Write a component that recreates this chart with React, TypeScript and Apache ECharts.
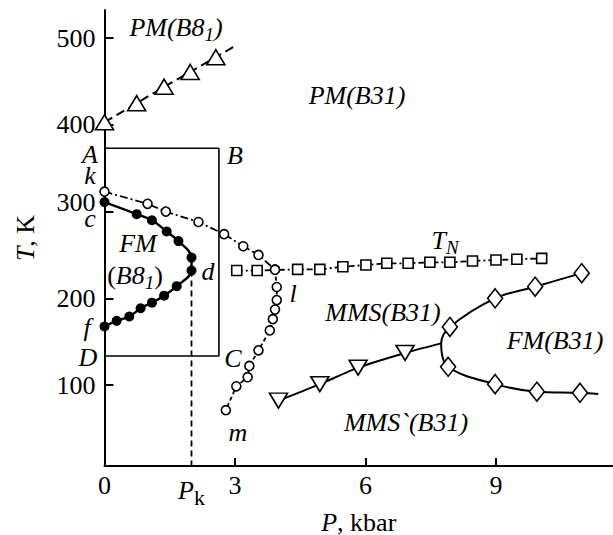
import React, { useEffect, useRef } from 'react';
import * as echarts from 'echarts';

// ---------- data (P in kbar, T in K) ----------
const pmB81Triangles = [[0, 403], [0.74, 425], [1.37, 444], [1.97, 461], [2.56, 478]];
const pmB81Tail = [3.0, 491];
const kCirclesUpper = [[0, 323], [0.99, 309], [1.41, 300], [2.16, 288], [2.75, 274], [3.19, 260], [3.54, 250], [3.92, 233]];
const kCirclesLower = [[3.92, 233], [3.96, 213], [3.96, 198], [3.92, 187], [3.87, 176], [3.8, 163], [3.54, 140], [3.33, 122], [3.29, 109], [3.03, 98.5], [2.79, 71]];
const fmFilledCircles = [[0, 311], [0.74, 297], [1.09, 290], [1.43, 277], [1.7, 266], [2.0, 247], [2.0, 232], [1.66, 214], [1.37, 203], [1.09, 195], [0.83, 188.5], [0.57, 179], [0.28, 174], [0, 167.5]];
const tnSquares = [[3.04, 232], [3.51, 232], [4.44, 233.4], [4.95, 233.4], [5.48, 236.4], [6.01, 238.4], [6.49, 240.4], [6.98, 240.4], [7.48, 241.5], [7.94, 241.5], [8.46, 243], [9.0, 244.2], [9.48, 245], [10.05, 246.1]];
const mmsTriangles = [[4.0, 82], [4.95, 101], [5.83, 120], [6.91, 137]];
const triplePoint = [7.74, 148];
const fmB31Upper = [[7.94, 167], [8.98, 200], [9.9, 213.4], [10.97, 229]];
const fmB31Lower = [[7.9, 121], [8.98, 101], [9.94, 92.3], [10.93, 91]];
const fmB31LowerTail = [11.35, 89.6];
const boxABCD = [[0, 373], [2.63, 373], [2.63, 133.5], [0, 133.5]];
const pK = 2.0;
const pointDT = 232;

const xTicks = [3, 6, 9];
const xLabels = [0, pK, 3, 6, 9];
const yTicks = [100, 200, 300, 400, 500];

const X_MIN = 0, X_MAX = 11.69;
const Y_MIN = 6.6, Y_MAX = 532.5;

const FONT = '"Liberation Serif", "DejaVu Serif", "Times New Roman", serif';
const FS = 26;
const LH = 16;

const it = { fontFamily: FONT, fontSize: FS, fontStyle: 'italic', fill: '#000', color: '#000', lineHeight: LH };
const subIt = { fontFamily: FONT, fontSize: 19, fontStyle: 'italic', fill: '#000', color: '#000', padding: [14, 0, 0, 0], lineHeight: LH };
const up = { fontFamily: FONT, fontSize: FS, fill: '#000', color: '#000', lineHeight: LH };

function label(text: string, x: number, y: number, align = 'center') {
  return {
    type: 'text',
    x,
    y,
    z: 100,
    style: {
      text,
      align,
      verticalAlign: 'middle',
      fontFamily: FONT,
      fontSize: FS,
      fontStyle: 'italic',
      fill: '#000',
      rich: { i: it, s: subIt, u: up },
    },
  };
}

const openMarker = { color: '#fff', borderColor: '#000', borderWidth: 1.6 };

export default function App() {
  const ref = useRef<HTMLDivElement>(null);
  useEffect(() => {
    if (!ref.current) return;
    const chart = echarts.init(ref.current, null, { renderer: 'svg' });
    const option: any = {
      animation: false,
      backgroundColor: '#fff',
      grid: { left: 104.5, right: 0, top: 10, bottom: 69, containLabel: false, outerBoundsMode: 'none' },
      xAxis: {
        type: 'value',
        min: X_MIN,
        max: X_MAX,
        axisLine: { show: true, lineStyle: { color: '#000', width: 2 } },
        axisTick: { show: true, inside: true, length: 8, customValues: xTicks, lineStyle: { color: '#000', width: 2 } },
        axisLabel: {
          customValues: xLabels,
          margin: 6,
          color: '#000',
          fontFamily: FONT,
          fontSize: FS,
          formatter: (v: number) => (v === pK ? '{i|P}{k|k}' : String(v)),
          rich: {
            i: { fontFamily: FONT, fontSize: FS, fontStyle: 'italic', color: '#000' },
            k: { fontFamily: FONT, fontSize: 22, color: '#000', padding: [14, 0, 0, 0] },
          },
        },
        splitLine: { show: false },
        name: '{i|P}, kbar',
        nameLocation: 'middle',
        nameGap: 47,
        nameMoveOverlap: false,
        nameTextStyle: {
          fontFamily: FONT,
          fontSize: FS,
          color: '#000',
          lineHeight: 18,
          rich: { i: { fontFamily: FONT, fontSize: FS, fontStyle: 'italic', color: '#000', lineHeight: 18 } },
        },
      },
      yAxis: {
        type: 'value',
        min: Y_MIN,
        max: Y_MAX,
        axisLine: { show: true, lineStyle: { color: '#000', width: 2 } },
        axisTick: { show: true, inside: true, length: 9, customValues: yTicks, lineStyle: { color: '#000', width: 2 } },
        axisLabel: {
          // the printed "300" sits a little above its tick in the original
          customValues: yTicks.map((v) => (v === 300 ? v + 11 : v)),
          formatter: (v: number) => String(Math.round(v / 100) * 100),
          margin: 9,
          color: '#000',
          fontFamily: FONT,
          fontSize: FS,
          lineHeight: LH,
        },
        splitLine: { show: false },
        name: '{i|T}, K',
        nameLocation: 'middle',
        nameGap: 66,
        nameRotate: 90,
        nameMoveOverlap: false,
        nameTextStyle: {
          fontFamily: FONT,
          fontSize: FS,
          color: '#000',
          rich: { i: { fontFamily: FONT, fontSize: FS, fontStyle: 'italic', color: '#000' } },
        },
      },
      series: [
        {
          type: 'line',
          data: boxABCD,
          symbol: 'none',
          clip: false,
          lineStyle: { color: '#000', width: 1.6 },
          z: 1,
        },
        {
          type: 'line',
          data: [[pK, pointDT], [pK, Y_MIN]],
          symbol: 'none',
          clip: false,
          lineStyle: { color: '#000', width: 1.8, type: [6, 4] },
          z: 1,
        },
        {
          type: 'line',
          data: [...pmB81Triangles, { value: pmB81Tail, symbol: 'none' }],
          symbol: 'triangle',
          symbolSize: [18, 15],
          clip: false,
          itemStyle: openMarker,
          lineStyle: { color: '#000', width: 2, type: [9, 5] },
          z: 3,
        },
        {
          type: 'line',
          data: fmFilledCircles,
          symbol: 'circle',
          symbolSize: 10,
          smooth: 0.35,
          clip: false,
          itemStyle: { color: '#000' },
          lineStyle: { color: '#000', width: 2.4 },
          z: 3,
        },
        {
          type: 'line',
          data: tnSquares,
          symbol: 'rect',
          symbolSize: 10,
          clip: false,
          itemStyle: openMarker,
          lineStyle: { color: '#000', width: 1.8, type: [6, 3, 2, 3] },
          z: 3,
        },
        {
          type: 'line',
          data: [...mmsTriangles, { value: triplePoint, symbol: 'none' }],
          symbol: 'triangle',
          symbolRotate: 180,
          symbolSize: [18, 15],
          smooth: 0.2,
          clip: false,
          itemStyle: openMarker,
          lineStyle: { color: '#000', width: 2 },
          z: 3,
        },
        {
          type: 'line',
          data: [
            ...fmB31Upper.slice().reverse(),
            { value: triplePoint, symbol: 'none' },
            ...fmB31Lower,
            { value: fmB31LowerTail, symbol: 'none' },
          ],
          symbol: 'diamond',
          symbolSize: [15, 19],
          smooth: 0.35,
          clip: false,
          itemStyle: openMarker,
          lineStyle: { color: '#000', width: 2 },
          z: 3,
        },
        {
          type: 'line',
          data: kCirclesLower,
          symbol: 'circle',
          symbolSize: 9,
          clip: false,
          itemStyle: openMarker,
          lineStyle: { color: '#000', width: 1.8, type: [4, 3] },
          z: 4,
        },
        {
          type: 'line',
          data: kCirclesUpper,
          symbol: 'circle',
          symbolSize: 9,
          clip: false,
          itemStyle: openMarker,
          lineStyle: { color: '#000', width: 1.8, type: [8, 3, 2, 3] },
          z: 4,
        },
      ],
      graphic: [
        label('{i|PM(B8}{s|1}{i|)}', 176, 27),
        label('{i|PM(B31)}', 357, 95),
        label('{i|A}', 90, 154),
        label('{i|B}', 235, 155),
        label('{i|k}', 90, 175),
        label('{i|c}', 90, 218),
        label('{i|f}', 87, 327),
        label('{i|D}', 88, 357),
        label('{i|FM}', 138, 243),
        label('{u|(}{i|B8}{s|1}{u|)}', 135, 275),
        label('{i|d}', 208, 271),
        label('{i|T}{s|N}', 445, 240),
        label('{i|l}', 293, 293),
        label('{i|MMS(B31)}', 383, 312),
        label('{i|FM(B31)}', 555, 340),
        label('{i|C}', 233, 358),
        label('{i|m}', 238, 432),
        label('{i|MMS`(B31)}', 406, 422),
      ],
    };
    chart.setOption(option);
    return () => chart.dispose();
  }, []);
  return (
    <div
      ref={ref}
      style={{ position: 'absolute', left: 0, top: 0, width: 613, height: 535, background: '#fff' }}
    />
  );
}
